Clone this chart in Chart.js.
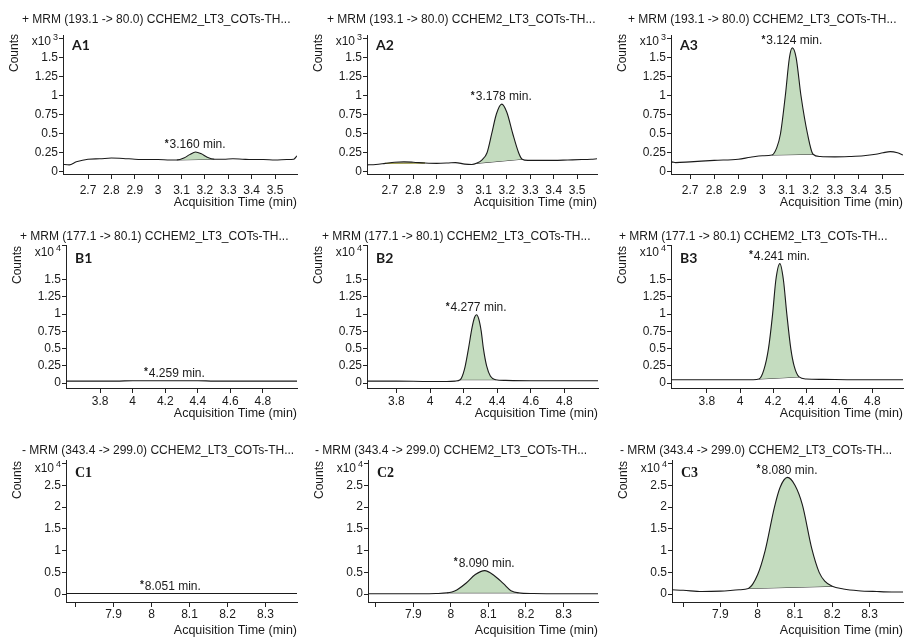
<!DOCTYPE html>
<html>
<head>
<meta charset="utf-8">
<title>MRM chromatograms</title>
<script src="https://cdn.jsdelivr.net/npm/chart.js@4.4.1/dist/chart.umd.min.js"></script>
<style>
  body { margin: 0; background: #fff; }
  #page { position: relative; width: 904px; height: 637px; overflow: hidden; background: #fff; }
  #page canvas { position: absolute; }
</style>
</head>
<body>
<div id="page"></div>
<script>
// transition titles, one per row
const titleA = '+ MRM (193.1 -> 80.0) CCHEM2_LT3_COTs-TH...';
const titleB = '+ MRM (177.1 -> 80.1) CCHEM2_LT3_COTs-TH...';
const titleC = '- MRM (343.4 -> 299.0) CCHEM2_LT3_COTs-TH...';

// tick values and labels (last y label is replaced by the x10^n multiplier)
const xTicksA = [2.7, 2.8, 2.9, 3.0, 3.1, 3.2, 3.3, 3.4, 3.5];
const xLabelsA = ['2.7', '2.8', '2.9', '3', '3.1', '3.2', '3.3', '3.4', '3.5'];
const xTicksB = [3.8, 4.0, 4.2, 4.4, 4.6, 4.8];
const xLabelsB = ['3.8', '4', '4.2', '4.4', '4.6', '4.8'];
const xTicksC = [7.8, 7.9, 8.0, 8.1, 8.2, 8.3];
const xLabelsC = ['', '7.9', '8', '8.1', '8.2', '8.3'];
const yTicksA = [0, 0.25, 0.5, 0.75, 1, 1.25, 1.5, 1.75];
const yLabelsA = ['0', '0.25', '0.5', '0.75', '1', '1.25', '1.5', ''];
const yTicksB = [0, 0.25, 0.5, 0.75, 1, 1.25, 1.5, 2];
const yLabelsB = ['0', '0.25', '0.5', '0.75', '1', '1.25', '1.5', ''];
const yTicksC = [0, 0.5, 1, 1.5, 2, 2.5, 3];
const yLabelsC = ['0', '0.5', '1', '1.5', '2', '2.5', ''];
const expA = '3', expB = '4', expC = '4';

// row A traces (counts x10^3)
const timeA1 = [2.59, 2.62, 2.65, 2.70, 2.75, 2.80, 2.85, 2.90, 2.95, 3.00, 3.05, 3.08, 3.11, 3.135, 3.16, 3.185, 3.21, 3.24, 3.28, 3.32, 3.36, 3.40, 3.45, 3.50, 3.55, 3.58, 3.594];
const countsA1 = [0.10, 0.09, 0.13, 0.165, 0.17, 0.18, 0.175, 0.165, 0.16, 0.16, 0.155, 0.155, 0.18, 0.225, 0.26, 0.235, 0.19, 0.165, 0.165, 0.17, 0.165, 0.16, 0.16, 0.155, 0.16, 0.165, 0.21];
const timeA2 = [2.60, 2.64, 2.68, 2.72, 2.76, 2.80, 2.85, 2.90, 2.95, 2.98, 3.02, 3.05, 3.07, 3.095, 3.115, 3.135, 3.155, 3.178, 3.20, 3.225, 3.25, 3.265, 3.29, 3.34, 3.40, 3.46, 3.52, 3.56, 3.585];
const countsA2 = [0.09, 0.095, 0.11, 0.125, 0.13, 0.125, 0.115, 0.11, 0.115, 0.12, 0.10, 0.095, 0.11, 0.16, 0.25, 0.50, 0.76, 0.89, 0.78, 0.50, 0.25, 0.165, 0.15, 0.15, 0.15, 0.155, 0.16, 0.165, 0.17];
const timeA3 = [2.62, 2.625, 2.64, 2.70, 2.80, 2.90, 2.95, 3.00, 3.04, 3.06, 3.075, 3.095, 3.112, 3.124, 3.14, 3.16, 3.187, 3.21, 3.24, 3.30, 3.36, 3.42, 3.47, 3.50, 3.53, 3.56, 3.583];
const countsA3 = [0.09, 0.13, 0.12, 0.13, 0.15, 0.165, 0.19, 0.21, 0.22, 0.32, 0.50, 1.00, 1.50, 1.63, 1.50, 1.00, 0.50, 0.23, 0.20, 0.195, 0.20, 0.21, 0.23, 0.25, 0.265, 0.25, 0.22];

// row B traces (counts x10^4)
const timeB1 = [3.59, 3.7, 3.8, 3.9, 4.0, 4.1, 4.2, 4.259, 4.3, 4.4, 4.5, 4.6, 4.7, 4.8, 4.9, 5.01];
const countsB1 = [0.03, 0.03, 0.03, 0.03, 0.035, 0.035, 0.035, 0.035, 0.035, 0.035, 0.03, 0.03, 0.03, 0.03, 0.03, 0.03];
const timeB2 = [3.63, 3.8, 4.0, 4.1, 4.15, 4.18, 4.205, 4.229, 4.25, 4.265, 4.277, 4.29, 4.305, 4.318, 4.337, 4.36, 4.39, 4.45, 4.6, 4.8, 5.0];
const countsB2 = [0.03, 0.03, 0.025, 0.025, 0.03, 0.05, 0.2, 0.5, 0.8, 0.95, 0.99, 0.93, 0.75, 0.5, 0.25, 0.1, 0.05, 0.04, 0.035, 0.035, 0.035];
const timeB3 = [3.585, 3.8, 4.0, 4.08, 4.115, 4.145, 4.172, 4.197, 4.217, 4.241, 4.262, 4.283, 4.307, 4.327, 4.357, 4.40, 4.5, 4.7, 4.985];
const countsB3 = [0.05, 0.05, 0.05, 0.05, 0.06, 0.2, 0.5, 1.0, 1.5, 1.73, 1.5, 1.0, 0.5, 0.25, 0.09, 0.06, 0.055, 0.05, 0.05];

// row C traces (counts x10^4)
const timeC1 = [7.775, 7.85, 7.95, 8.051, 8.15, 8.25, 8.383];
const countsC1 = [0.015, 0.015, 0.015, 0.015, 0.015, 0.015, 0.015];
const timeC2 = [7.779, 7.85, 7.92, 7.96, 7.99, 8.01, 8.04, 8.065, 8.09, 8.115, 8.14, 8.16, 8.18, 8.22, 8.3, 8.392];
const countsC2 = [0.01, 0.01, 0.01, 0.015, 0.03, 0.07, 0.25, 0.45, 0.54, 0.43, 0.24, 0.08, 0.03, 0.015, 0.01, 0.01];
const timeC3 = [7.77, 7.80, 7.85, 7.90, 7.95, 7.975, 8.00, 8.02, 8.045, 8.06, 8.08, 8.10, 8.12, 8.145, 8.165, 8.18, 8.20, 8.23, 8.27, 8.32, 8.36, 8.40];
const countsC3 = [0.10, 0.09, 0.06, 0.07, 0.10, 0.13, 0.45, 1.0, 2.0, 2.45, 2.68, 2.5, 2.05, 1.05, 0.5, 0.3, 0.18, 0.12, 0.08, 0.06, 0.05, 0.05];

// retention times and integration windows
const rtA = [3.160, 3.178, 3.124];
const rtB = [4.259, 4.277, 4.241];
const rtC = [8.051, 8.090, 8.080];
const peakA1 = [3.08, 3.24], peakA2 = [3.07, 3.265], peakA3 = [3.04, 3.21];
const peakB2 = [4.18, 4.39], peakB3 = [4.115, 4.357];
const peakC2 = [7.99, 8.18], peakC3 = [7.975, 8.20];
const minorA2 = [2.68, 2.85];

Chart.defaults.font.family = '"Liberation Sans", Arial, sans-serif';
Chart.defaults.font.size = 12;
Chart.defaults.color = '#1a1a1a';

const FONT = '12px "Liberation Sans", Arial, sans-serif';
const AXIS = '#222';

const decor = {
  id: 'decor',
  afterDraw(chart, args, o) {
    const { ctx, chartArea: a, scales } = chart;
    ctx.save();
    ctx.fillStyle = '#1a1a1a';
    ctx.font = FONT;
    ctx.textBaseline = 'middle';
    ctx.textAlign = 'left';
    ctx.fillText(o.title, o.titleX, o.titleY);

    ctx.save();
    ctx.translate(a.left - 48, a.top + o.countsDy);
    ctx.rotate(-Math.PI / 2);
    ctx.textAlign = 'center';
    ctx.fillText('Counts', 0, 0);
    ctx.restore();

    ctx.textAlign = 'right';
    ctx.fillText('x10', a.left - 12, a.top + o.expDy);
    ctx.font = '9px "Liberation Sans", Arial, sans-serif';
    ctx.textAlign = 'left';
    ctx.fillText(o.exp, a.left - 10, a.top + o.expDy - 4);

    ctx.font = o.tagFont;
    ctx.fillText(o.tag, a.left + 9, a.top + o.tagDy);

    const px = scales.x.getPixelForValue(o.rt);
    const py = scales.y.getPixelForValue(o.apex) - 7;
    const txt = o.rt.toFixed(3) + ' min.';
    ctx.font = FONT;
    ctx.textAlign = 'center';
    ctx.fillText(txt, px + 2, py);
    const w = ctx.measureText(txt).width;
    ctx.font = 'bold 10px "Liberation Sans", Arial, sans-serif';
    ctx.textAlign = 'right';
    ctx.fillText('*', px + 2 - w / 2 - 1, py - 1);
    ctx.restore();
  }
};

const rowA = { top: 0, h: 210, titleY: 20, areaTop: 35, areaBottom: 174, yMin: -0.03, yMax: 1.8,
  yTicks: yTicksA, yLabels: yLabelsA, xTicks: xTicksA, xLabels: xLabelsA, exp: expA, title: titleA,
  tickPad: 4, xTitlePad: 1, countsDy: 18, expDy: 7, tagDy: 10, tagFont: 'bold 14px Lato, "Open Sans", sans-serif' };
const rowB = { top: 210, h: 210, titleY: 237, areaTop: 245, areaBottom: 388, yMin: -0.07, yMax: 2.0,
  yTicks: yTicksB, yLabels: yLabelsB, xTicks: xTicksB, xLabels: xLabelsB, exp: expB, title: titleB,
  tickPad: 1, xTitlePad: 0, countsDy: 20, expDy: 8, tagDy: 13, tagFont: 'bold 14px Lato, "Open Sans", sans-serif' };
const rowC = { top: 420, h: 217, titleY: 451, areaTop: 460, areaBottom: 602, yMin: -0.18, yMax: 3.08,
  yTicks: yTicksC, yLabels: yLabelsC, xTicks: xTicksC, xLabels: xLabelsC, exp: expC, title: titleC,
  tickPad: 0, xTitlePad: 0, countsDy: 20, expDy: 9, tagDy: 13, tagFont: 'bold 14px "Liberation Serif", serif' };

const colLeft = [0, 300, 600];
const colWidth = [300, 300, 304];

const panels = [
  { tag: 'A1', row: rowA, col: 0, l: 63, r: 297, xr: [2.593, 3.594], time: timeA1, counts: countsA1, rt: rtA[0], peak: peakA1, titleX: 22 },
  { tag: 'A2', row: rowA, col: 1, l: 367, r: 597, xr: [2.602, 3.585], time: timeA2, counts: countsA2, rt: rtA[1], peak: peakA2, minor: minorA2, titleX: 327 },
  { tag: 'A3', row: rowA, col: 2, l: 671, r: 903, xr: [2.621, 3.583], time: timeA3, counts: countsA3, rt: rtA[2], peak: peakA3, titleX: 628 },
  { tag: 'B1', row: rowB, col: 0, l: 66, r: 297, xr: [3.59, 5.01], time: timeB1, counts: countsB1, rt: rtB[0], titleX: 20 },
  { tag: 'B2', row: rowB, col: 1, l: 367, r: 598, xr: [3.625, 5.0], time: timeB2, counts: countsB2, rt: rtB[1], peak: peakB2, titleX: 322 },
  { tag: 'B3', row: rowB, col: 2, l: 671, r: 903, xr: [3.583, 4.985], time: timeB3, counts: countsB3, rt: rtB[2], peak: peakB3, titleX: 619 },
  { tag: 'C1', row: rowC, col: 0, l: 66, r: 297, xr: [7.775, 8.383], time: timeC1, counts: countsC1, rt: rtC[0], titleX: 22 },
  { tag: 'C2', row: rowC, col: 1, l: 368, r: 598, xr: [7.779, 8.392], time: timeC2, counts: countsC2, rt: rtC[1], peak: peakC2, titleX: 315 },
  { tag: 'C3', row: rowC, col: 2, l: 672, r: 903, xr: [7.77, 8.39], time: timeC3, counts: countsC3, rt: rtC[2], peak: peakC3, titleX: 620 }
];

function windowPoints(pts, win) {
  return pts.filter(q => q.x >= win[0] - 1e-9 && q.x <= win[1] + 1e-9);
}

panels.forEach(p => {
  const row = p.row;
  const left = colLeft[p.col], w = colWidth[p.col];
  const cv = document.createElement('canvas');
  cv.width = w; cv.height = row.h;
  cv.style.left = left + 'px'; cv.style.top = row.top + 'px';
  document.getElementById('page').appendChild(cv);

  const pts = p.time.map((t, i) => ({ x: t, y: p.counts[i] }));
  const datasets = [{
    data: pts, borderColor: '#1a1a1a', borderWidth: 1.1, pointRadius: 0,
    cubicInterpolationMode: 'monotone', fill: false
  }];
  if (p.peak) {
    const pk = windowPoints(pts, p.peak);
    datasets.push({
      data: pk, borderColor: 'rgba(0,0,0,0)', borderWidth: 1, pointRadius: 0,
      cubicInterpolationMode: 'monotone', backgroundColor: '#c4dcbf', fill: '+1'
    });
    datasets.push({
      data: [pk[0], pk[pk.length - 1]], borderColor: '#2e2e2e', borderWidth: 1, pointRadius: 0, fill: false
    });
  }
  if (p.minor) {
    const mk = windowPoints(pts, p.minor);
    datasets.push({
      data: [mk[0], mk[mk.length - 1]], borderColor: '#9c9a48', borderWidth: 1.4, pointRadius: 0, fill: false
    });
  }

  // value under the retention-time label
  let apex = -Infinity;
  pts.forEach(q => { if (Math.abs(q.x - p.rt) <= 0.03 && q.y > apex) apex = q.y; });

  new Chart(cv, {
    type: 'line',
    data: { datasets },
    plugins: [decor],
    options: {
      responsive: false,
      animation: false,
      devicePixelRatio: 1,
      events: [],
      layout: { padding: { left: 0, top: row.areaTop - row.top, right: left + w - p.r, bottom: 0 } },
      plugins: {
        legend: { display: false },
        tooltip: { enabled: false },
        decor: {
          title: row.title, titleX: p.titleX - left, titleY: row.titleY - row.top,
          countsDy: row.countsDy, expDy: row.expDy, exp: row.exp,
          tag: p.tag, tagFont: row.tagFont, tagDy: row.tagDy,
          rt: p.rt, apex: apex
        }
      },
      scales: {
        x: {
          type: 'linear', min: p.xr[0], max: p.xr[1],
          afterFit: s => { s.height = row.top + row.h - row.areaBottom; },
          afterBuildTicks: s => { s.ticks = row.xTicks.map(v => ({ value: v })); },
          grid: { drawOnChartArea: false, drawTicks: true, tickLength: 5, color: AXIS },
          border: { display: true, color: AXIS, width: 1 },
          ticks: { padding: row.tickPad, autoSkip: false, maxRotation: 0, callback: (v, i) => row.xLabels[i] },
          title: { display: true, text: 'Acquisition Time (min)', align: 'end',
            padding: { top: 0, bottom: row.xTitlePad }, font: { size: 12.5, lineHeight: 1 } }
        },
        y: {
          type: 'linear', min: row.yMin, max: row.yMax,
          afterFit: s => { s.width = p.l - left; },
          afterBuildTicks: s => { s.ticks = row.yTicks.map(v => ({ value: v })); },
          grid: { drawOnChartArea: false, drawTicks: true, tickLength: 4, color: AXIS },
          border: { display: true, color: AXIS, width: 1 },
          ticks: { padding: 1, autoSkip: false, callback: (v, i) => row.yLabels[i] }
        }
      }
    }
  });
});
</script>
</body>
</html>
